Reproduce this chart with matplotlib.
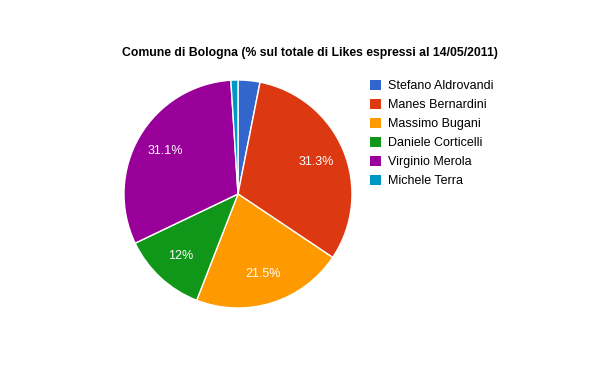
import matplotlib
matplotlib.use("Agg")
import matplotlib.pyplot as plt
from matplotlib.patches import Patch
import numpy as np

candidates = ["Stefano Aldrovandi", "Manes Bernardini", "Massimo Bugani",
              "Daniele Corticelli", "Virginio Merola", "Michele Terra"]
shares = [3.1, 31.3, 21.5, 12.0, 31.1, 1.0]
pct_labels = ["", "31.3%", "21.5%", "12%", "31.1%", ""]
colors = ["#3366cc", "#dc3912", "#ff9900", "#109618", "#990099", "#0099c6"]
title = "Comune di Bologna (% sul totale di Likes espressi al 14/05/2011)"

plt.rcParams['font.family'] = ['Liberation Sans', 'DejaVu Sans']

W, H = 600, 371
fig = plt.figure(figsize=(W / 100, H / 100), dpi=100)
cx, cy, r = 238, 194, 114
ax = fig.add_axes([(cx - r) / W, (H - cy - r) / H, 2 * r / W, 2 * r / H])
wedges, texts = ax.pie(shares, colors=colors, startangle=90, counterclock=False,
                       radius=1.0, wedgeprops=dict(edgecolor="white", linewidth=1))
total = sum(shares)
cum = 0
for s, lab in zip(shares, pct_labels):
    mid = (cum + s / 2) / total * 2 * np.pi
    cum += s
    if lab:
        ax.text(0.74 * np.sin(mid), 0.74 * np.cos(mid), lab, color="white",
                fontsize=9, ha="center", va="center")
ax.set_xlim(-1, 1)
ax.set_ylim(-1, 1)
ax.set_aspect("equal")
ax.axis("off")

fig.text(310 / W, 1 - 53 / H, title, ha="center", va="center",
         fontsize=8.8, fontweight="bold")

handles = [Patch(facecolor=c, edgecolor="none") for c in colors]
fig.legend(handles, candidates, loc="upper left",
           bbox_to_anchor=(370 / W, 1 - 80 / H), frameon=False,
           fontsize=9, handlelength=0.85, handleheight=0.85,
           handletextpad=0.6, labelspacing=0.53, borderpad=0, borderaxespad=0)

fig.savefig("out.png", dpi=100, facecolor="white")
